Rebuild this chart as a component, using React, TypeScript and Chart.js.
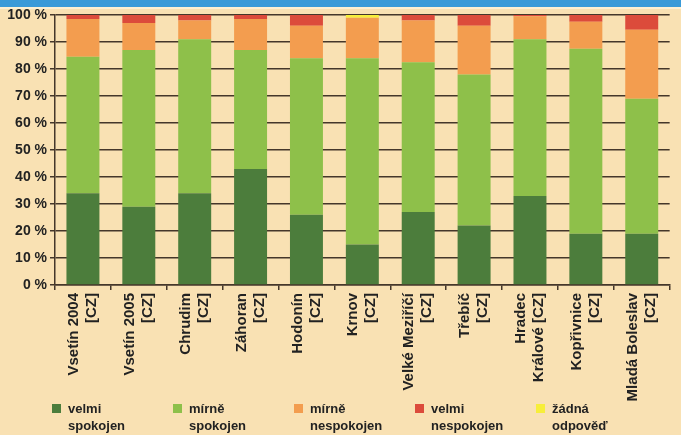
import React, { useEffect, useRef } from "react";
import { Chart, registerables } from "chart.js";

Chart.register(...registerables);

const categories: string[][] = [
  ["Vsetín 2004", "[CZ]"],
  ["Vsetín 2005", "[CZ]"],
  ["Chrudim", "[CZ]"],
  ["Záhoran", "[CZ]"],
  ["Hodonín", "[CZ]"],
  ["Krnov", "[CZ]"],
  ["Velké Meziříčí", "[CZ]"],
  ["Třebíč", "[CZ]"],
  ["Hradec", "Králové [CZ]"],
  ["Kopřivnice", "[CZ]"],
  ["Mladá Boleslav", "[CZ]"],
];

const velmiSpokojen = [34, 29, 34, 43, 26, 15, 27, 22, 33, 19, 19];
const mirneSpokojen = [50.5, 58, 57, 44, 58, 69, 55.5, 56, 58, 68.5, 50];
const mirneNespokojen = [14, 10, 7, 11.5, 12, 15, 15.5, 18, 8.5, 10, 25.5];
const velmiNespokojen = [1.5, 3, 2, 1.5, 4, 0, 2, 4, 0.5, 2.5, 5.5];
const zadnaOdpoved = [0, 0, 0, 0, 0, 1, 0, 0, 0, 0, 0];

const seriesNames: string[][] = [
  ["velmi", "spokojen"],
  ["mírně", "spokojen"],
  ["mírně", "nespokojen"],
  ["velmi", "nespokojen"],
  ["žádná", "odpověď"],
];
const seriesColors = ["#4c7d3c", "#8ec04a", "#f39d4f", "#dc4b3b", "#f7ee3a"];

const yTicks = [0, 10, 20, 30, 40, 50, 60, 70, 80, 90, 100];

const BG = "#f9e1b3";
const GRID = "#45372a";
const TEXT = "#222222";

const bgPlugin = {
  id: "bgPlugin",
  beforeDraw(chart: any) {
    const { ctx, width } = chart;
    ctx.save();
    ctx.fillStyle = BG;
    ctx.fillRect(0, 0, width, chart.height);
    ctx.fillStyle = "#3a9ad8";
    ctx.fillRect(0, 0, width, 7);
    ctx.fillStyle = "#fdf0d2";
    ctx.fillRect(0, 7, width, 2);
    ctx.restore();
  },
};

const legendPlugin = {
  id: "customLegend",
  afterDraw(chart: any) {
    const { ctx } = chart;
    ctx.save();
    ctx.font = "bold 13px 'Liberation Sans', Arial, sans-serif";
    ctx.textBaseline = "middle";
    ctx.textAlign = "left";
    seriesNames.forEach((name, i) => {
      const x = 52 + i * 121;
      const y = 409;
      ctx.fillStyle = seriesColors[i];
      ctx.fillRect(x, y - 5, 9, 9);
      ctx.fillStyle = TEXT;
      ctx.fillText(name[0], x + 16, y);
      ctx.fillText(name[1], x + 16, y + 17);
    });
    ctx.restore();
  },
};

export default function App() {
  const ref = useRef<HTMLCanvasElement | null>(null);

  useEffect(() => {
    if (!ref.current) return;
    const dataSets = [velmiSpokojen, mirneSpokojen, mirneNespokojen, velmiNespokojen, zadnaOdpoved];
    const chart = new Chart(ref.current, {
      type: "bar",
      data: {
        labels: categories as any,
        datasets: dataSets.map((d, i) => ({
          label: seriesNames[i].join(" "),
          data: d,
          backgroundColor: seriesColors[i],
          borderWidth: 0,
          categoryPercentage: 1,
          barPercentage: 0.59,
        })),
      },
      options: {
        animation: false,
        responsive: false,
        maintainAspectRatio: false,
        layout: { padding: { left: 0, right: 6, top: 15, bottom: 0 } },
        plugins: {
          legend: { display: false },
          tooltip: { enabled: false },
          title: { display: false },
        },
        scales: {
          x: {
            stacked: true,
            offset: true,
            grid: {
              drawOnChartArea: false,
              drawTicks: true,
              tickLength: 5,
              color: GRID,
              lineWidth: 1.5,
            },
            border: { display: true, color: GRID, width: 1.5 },
            ticks: {
              autoSkip: false,
              minRotation: 90,
              maxRotation: 90,
              padding: 3,
              labelOffset: -9,
              color: TEXT,
              font: { family: "'Liberation Sans', Arial, sans-serif", size: 15, weight: "bold", lineHeight: 1.2 },
            },
            afterFit(scale: any) {
              scale.height = 150;
            },
          },
          y: {
            stacked: true,
            min: 0,
            max: 100,
            afterBuildTicks(scale: any) {
              scale.ticks = yTicks.map((v) => ({ value: v }));
            },
            grid: {
              color: GRID,
              lineWidth: 1.5,
              tickLength: 5,
              drawTicks: true,
            },
            border: { display: true, color: GRID, width: 1.5 },
            ticks: {
              padding: 3,
              color: TEXT,
              font: { family: "'Liberation Sans', Arial, sans-serif", size: 14, weight: "bold" },
              callback: (v: any) => `${v} %`,
            },
            afterFit(scale: any) {
              scale.width = 55;
            },
          },
        },
      },
      plugins: [bgPlugin, legendPlugin],
    });
    return () => chart.destroy();
  }, []);

  return (
    <div style={{ position: "fixed", left: 0, top: 0, width: 681, height: 435, background: BG }}>
      <canvas ref={ref} width={681} height={435} style={{ display: "block" }} />
    </div>
  );
}
